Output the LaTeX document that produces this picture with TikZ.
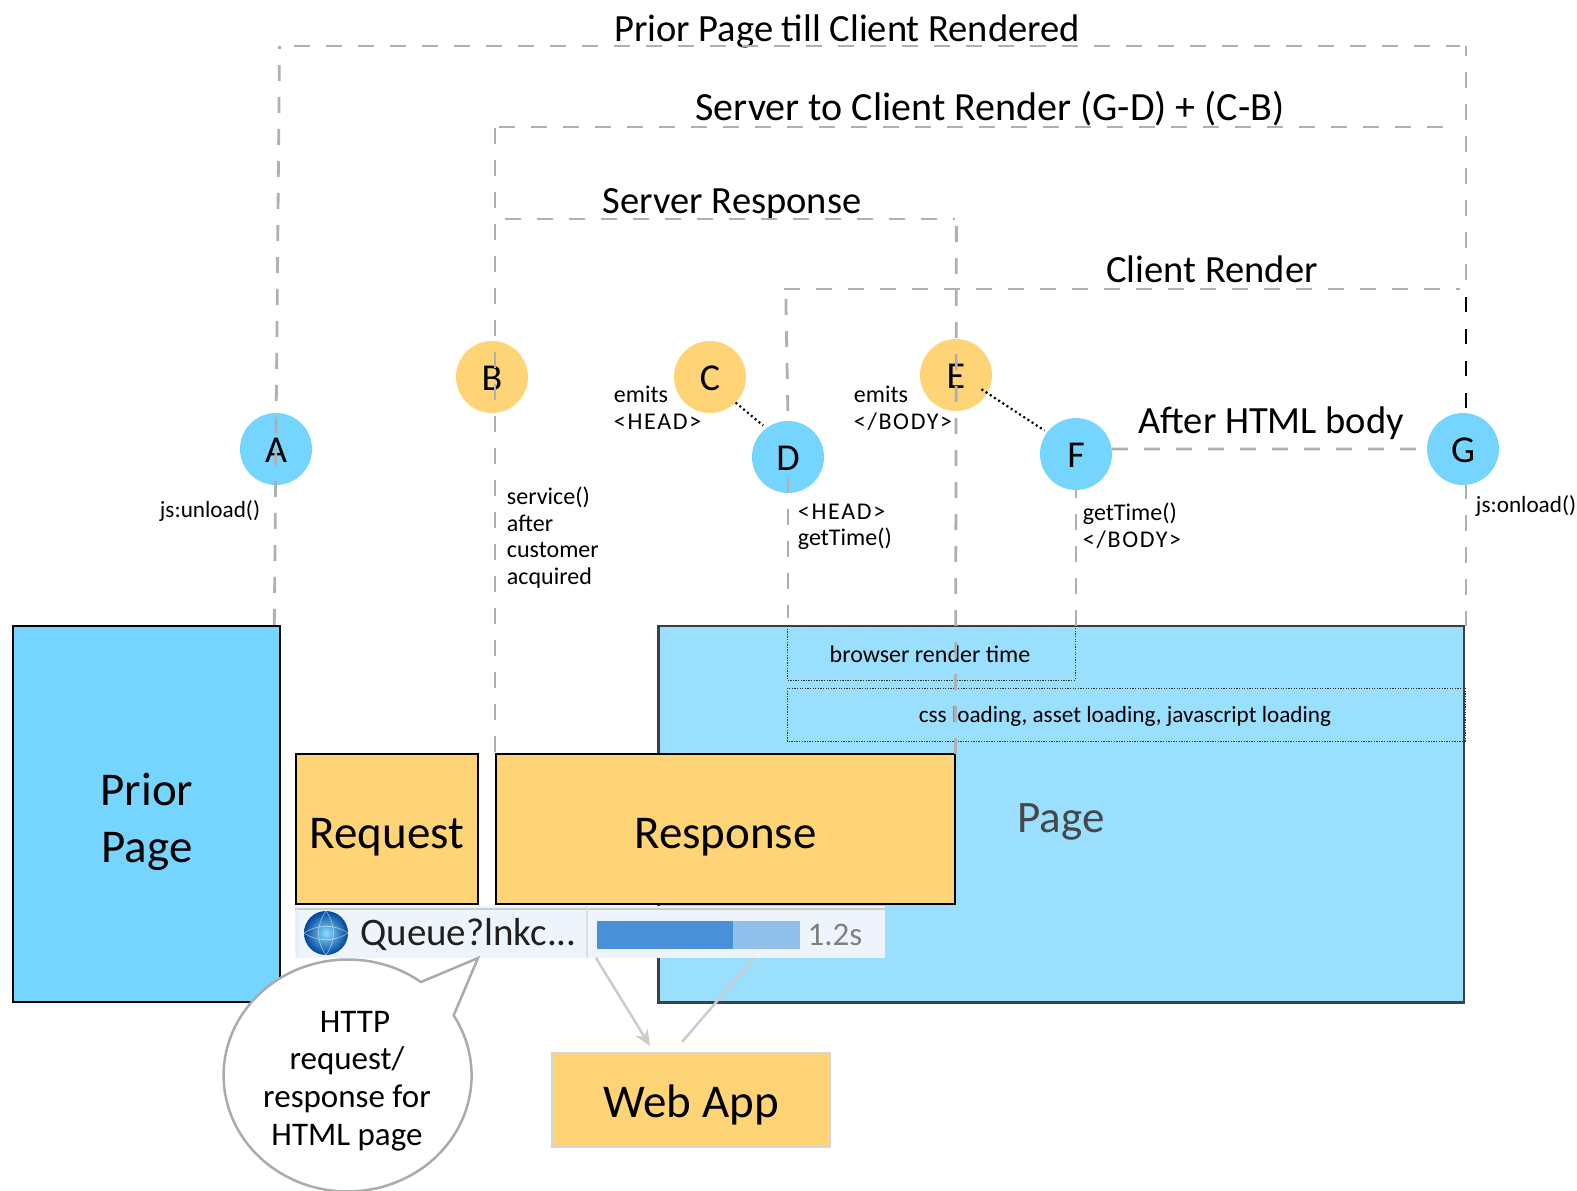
\documentclass[tikz,border=0pt]{standalone}
\usepackage{fontspec}
\setmainfont{Carlito}
\usetikzlibrary{arrows.meta}

\definecolor{clientblue}{HTML}{76D5FF}
\definecolor{pageblue}{HTML}{9BDFFF}
\definecolor{serverorange}{HTML}{FFD477}
\definecolor{spangray}{HTML}{B0B0B0}
\definecolor{stripblue}{HTML}{EEF4FC}

\newcommand{\widecaps}[1]{{\addfontfeature{LetterSpace=7}#1}}

\tikzset{
  spanline/.style={draw=spangray,line width=2.8pt,dash pattern=on 16pt off 16pt},
  letternode/.style={circle,minimum size=72pt,inner sep=0pt,text height=27pt,text depth=0pt,font=\fontsize{38}{38}\selectfont},
  blocknode/.style={draw,line width=2.6pt,outer sep=0pt,anchor=north west,text height=38pt,text depth=0pt,font=\fontsize{47}{56}\selectfont,align=center},
  spantext/.style={anchor=base,inner sep=0.75pt,font=\fontsize{38.5}{38.5}\selectfont},
  smalltext/.style={anchor=west,align=left,inner sep=0.75pt,font=\fontsize{24}{26.7}\selectfont},
  dottedbox/.style={draw=black!80,line width=0.9pt,dash pattern=on 1.3pt off 1.3pt},
}

\begin{document}
\begin{tikzpicture}[x=1pt,y=1pt,yscale=-1,xscale=1]
\useasboundingbox (0,0) rectangle (1577,1191);

%Shape: Rectangle (the page)
\draw [draw=black!75,line width=2.6pt,fill=pageblue] (658.5,626) rectangle (1464,1002.5);
\node (page) [font=\fontsize{45}{45}\selectfont,text=black!72] at (1061,822) {Page};
%Shape: Rectangle (dotted boxes)
\draw [dottedbox] (787,626) rectangle (1075,680);
\draw [dottedbox] (787,688) rectangle (1465,741);
\node (rendertime) [font=\fontsize{24}{24}\selectfont] at (930,654) {browser render time};
\node (loading) [font=\fontsize{23.2}{23.2}\selectfont] at (1125,716) {css loading, asset loading, javascript loading};

%Shape: Rectangle (blocks)
\node (prior) [blocknode,fill=clientblue,minimum width=267pt,minimum height=376pt] at (13,626) {};
\node (priorlabel) [font=\fontsize{47}{57}\selectfont,align=center] at (147,822) {Prior\\Page};
\node (request) [blocknode,fill=serverorange,minimum width=182pt,minimum height=150pt] at (296,754) {Request};
\node (response) [blocknode,fill=serverorange,minimum width=459pt,minimum height=150pt] at (496,754) {Response};
\node (webapp) [blocknode,draw=black!17,fill=serverorange,text height=34pt,minimum width=278pt,minimum height=94pt] at (552,1053) {Web App};

%Shape: Circle (the marks)
\node (A) [letternode,fill=clientblue] at (276,449) {A};
\node (B) [letternode,fill=serverorange] at (492,377) {B};
\node (C) [letternode,fill=serverorange] at (710,377) {C};
\node (D) [letternode,fill=clientblue] at (788,457) {D};
\node (E) [letternode,fill=serverorange] at (956,375) {E};
\node (F) [letternode,fill=clientblue] at (1076,454) {F};
\node (G) [letternode,fill=clientblue] at (1463,449) {G};

% Text Node
\node (priortill) [spantext] at (847,41) {Prior Page till Client Rendered};
\node (servertoclient) [spantext,font=\fontsize{40}{40}\selectfont] at (990,120) {Server to Client Render (G-D) + (C-B)};
\node (serverresp) [spantext] at (732,213) {Server Response};
\node (clientrender) [spantext] at (1212,282) {Client Render};
\node (afterbody) [spantext] at (1271,433) {After HTML body};
% Text Node
\node (unload) [smalltext,font=\fontsize{23.2}{26.7}\selectfont] at (159,511) {js:unload()};
\node (service) [smalltext] at (506,537.5) {service()\\after\\customer\\acquired};
\node (emithead) [smalltext] at (613,408) {emits\\\widecaps{<HEAD>}};
\node (emitbody) [smalltext] at (853,408) {emits\\\widecaps{</BODY>}};
\node (headtime) [smalltext] at (797,527) {\widecaps{<HEAD>}\\getTime()};
\node (timebody) [smalltext] at (1082,526) {getTime()\\\widecaps{</BODY>}};
\node (onload) [smalltext,font=\fontsize{23.2}{26.7}\selectfont] at (1475,506) {js:onload()};

%Straight Lines (the spans)
\coordinate (outerbl) at (274.3,625);
\coordinate (outertl) at (279.5,46);
\coordinate (outertr) at (1460,46);
\coordinate (outerrt) at (1466,46);
\coordinate (outerrb) at (1466,280);
\coordinate (blacktop) at (1466,297);
\coordinate (blackend) at (1466,408);
\coordinate (gdown) at (1466,485);
\coordinate (gbottom) at (1466,626);
\coordinate (midtl) at (495,127);
\coordinate (midbl) at (495,754);
\coordinate (midtr) at (1444,127);
\coordinate (servtl) at (495,219);
\coordinate (servtr) at (955,219);
\coordinate (servrt) at (956.4,219);
\coordinate (servrb) at (955.5,754);
\coordinate (clienttl) at (784,289);
\coordinate (clienttr) at (1460,289);
\coordinate (clientlt) at (785.7,289);
\coordinate (ddown) at (788,477);
\coordinate (dbottom) at (788,618);
\coordinate (fbottom) at (1076,626);

\draw [spanline,dash phase=13pt] (outertl) -- (outerbl);
\draw [spanline,dash phase=17.5pt] (outertl) -- (outertr);
\draw [spanline,dash phase=6pt] (outerrt) -- (outerrb);
\draw [draw=black,line width=2.5pt,dash pattern=on 15pt off 17pt] (blacktop) -- (blackend);
\draw [spanline,dash phase=2pt] (gdown) -- (gbottom);
\draw [spanline,dash phase=31pt] (midtl) -- (midbl);
\draw [spanline,dash phase=28pt] (midtl) -- (midtr);
\draw [spanline,dash phase=22pt] (servtl) -- (servtr);
\draw [spanline,dash phase=25pt] (servrt) -- (servrb);
\draw [spanline] (clienttl) -- (clienttr);
\draw [spanline,dash phase=22pt] (clientlt) -- (D.north);
\draw [spanline] (ddown) -- (dbottom);
\draw [spanline,dash phase=8pt] (F.south) -- (fbottom);
\draw [spanline] (F.8) -- (G.west);
%Straight Lines (dotted pairs)
\draw [line width=2.2pt,dash pattern=on 2pt off 3pt,shorten >=4pt] (C.-45) -- (D.127);
\draw [line width=2.2pt,dash pattern=on 2pt off 3pt,shorten <=-7pt,shorten >=3pt] (E.-30) -- (F.143);

%Shape: Rectangle (browser strip)
\node (strip) [fill=stripblue,anchor=north west,minimum width=590pt,minimum height=52pt,inner sep=0pt,outer sep=0pt] at (295,906) {};
\draw [draw=black!20,line width=1.6pt] (strip.north west)+(0,3) -- ++(590,3);
\draw [draw=black!13,line width=1.2pt] (587,906) -- (587,958);
\draw [draw=black!8,line width=1.2pt] (strip.north west)+(2,3) -- ++(2,52);
%Shape: Circle (globe)
\node (globe) [circle,minimum size=44pt,inner sep=0pt,inner color=blue!30!cyan!45!white,outer color=blue!55!cyan!60!black] at (326,933) {};
\draw [white,opacity=0.45,line width=0.8pt] (globe.west) .. controls (318,924) and (334,924) .. (globe.east);
\draw [white,opacity=0.45,line width=0.8pt] (globe.west) .. controls (318,942) and (334,942) .. (globe.east);
\draw [white,opacity=0.45,line width=0.8pt] (globe.north) .. controls (316,926) and (316,940) .. (globe.south);
\draw [white,opacity=0.45,line width=0.8pt] (globe.north) .. controls (336,926) and (336,940) .. (globe.south);
\node (queue) [inner sep=0pt,text=black!88,font=\fontsize{39}{39}\selectfont] at (468.5,935) {Queue?lnkc...};
%Shape: Rectangle (progress bar)
\fill [color={rgb,255:red,74;green,144;blue,217}] (597,921) rectangle (733,949);
\fill [color={rgb,255:red,144;green,191;blue,233}] (733,921) rectangle (800,949);
\node (secs) [inner sep=0pt,text=black!50,font=\fontsize{33}{33}\selectfont] at (835,935) {1.2s};

%Straight Lines (to the web app)
\coordinate (callout) at (596,958);
\coordinate (callin) at (650,1046);
\coordinate (replyout) at (754,958);
\coordinate (replyin) at (682,1042);
\draw [draw=black!20,line width=2.5pt,-{Stealth[length=16pt,width=14pt,inset=5pt]}] (callout) -- (callin);
\draw [draw=black!20,line width=2.5pt] (replyout) -- (replyin);

%Shape: Speech bubble
\draw [draw=black!33,line width=2.5pt,fill=white,line join=miter] (421,982) arc[start angle=-53.7,end angle=-391.2,x radius=124,y radius=116] -- (478,958) -- cycle;
\node (bubble) [align=center,font=\fontsize{33}{37.6}\selectfont] at (347,1081) {\hspace*{16pt}HTTP\\request/\\response for\\HTML page};

\end{tikzpicture}
\end{document}
